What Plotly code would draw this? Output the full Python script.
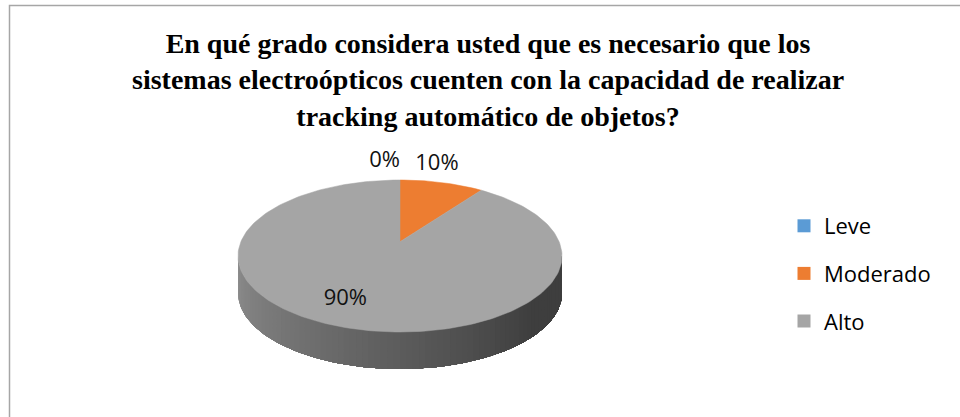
import math
import plotly.graph_objects as go

# ---- data ----
categories = ["Leve", "Moderado", "Alto"]
values = [0, 10, 90]
colors = ["#5B9BD5", "#ED7D31", "#A5A5A5"]
title_lines = [
    "En qué grado considera usted que es necesario que los",
    "sistemas electroópticos cuenten con la capacidad de realizar",
    "tracking automático de objetos?",
]

# ---- geometry (pixel-like axis units) ----
W, H = 960, 417
CX, CY, RX, RY = 400.0, 256.0, 162.0, 76.0
K = -0.188          # perspective tilt
DEPTH = 37.0        # thickness of the 3D side
S = math.sqrt(1 - K * K)


def project(X, V):
    d = 1 + K * V
    return CX + RX * X * S / d, CY + RY * (V + K) / d


def circ(theta_deg, r=1.0):
    t = math.radians(theta_deg)
    return r * math.sin(t), -r * math.cos(t)


def slice_of(theta):
    total = sum(values)
    acc = 0.0
    for i, v in enumerate(values):
        a0 = acc / total * 360
        acc += v
        a1 = acc / total * 360
        if v > 0 and a0 <= theta < a1:
            return i
    return len(values) - 1


def shade(hexcol, f):
    r, g, b = (int(hexcol[i:i + 2], 16) for i in (1, 3, 5))
    return "rgb(%d,%d,%d)" % (r * f, g * f, b * f)


fig = go.Figure()

# side wall (front half), shaded strips; each strip runs to the right end
# and the next one overlaps it, so no seams are left between strips
N = 80
for i in range(N):
    p0 = math.pi * i / N
    p1 = math.pi
    xs, ys = [], []
    steps = max(2, (N - i) * 2)
    for j in range(steps + 1):
        p = p0 + (p1 - p0) * j / steps
        xs.append(CX - RX * math.cos(p))
        ys.append(CY + RY * math.sin(p))
    for j in range(steps, -1, -1):
        p = p0 + (p1 - p0) * j / steps
        xs.append(CX - RX * math.cos(p))
        ys.append(CY + RY * math.sin(p) + DEPTH)
    pm = math.pi * (i + 0.5) / N
    xu, yu = -math.cos(pm), math.sin(pm)
    V = (yu - K) / (1 - K * yu)
    X = xu * (1 + K * V) / S
    th = math.degrees(math.atan2(X, -V)) % 360
    idx = slice_of(th)
    frac = (i + 0.5) / N
    f = 0.86 - 0.48 * min(1.0, frac / 0.8)
    col = shade(colors[idx], f)
    fig.add_trace(go.Scatter(x=xs, y=ys, fill="toself", mode="lines",
                             line=dict(width=0, color=col), fillcolor=col,
                             hoverinfo="skip", showlegend=False))

# top face slices
total = sum(values)
acc = 0.0
label_pts = []
for i, v in enumerate(values):
    a0 = acc / total * 360
    acc += v
    a1 = acc / total * 360
    label_pts.append(((a0 + a1) / 2, v))
    if v <= 0:
        continue
    n = max(4, int((a1 - a0) / 1.5))
    xs, ys = [], []
    px, py = project(0, 0)
    xs.append(px); ys.append(py)
    for j in range(n + 1):
        a = a0 + (a1 - a0) * j / n
        px, py = project(*circ(a))
        xs.append(px); ys.append(py)
    xs.append(xs[0]); ys.append(ys[0])
    fig.add_trace(go.Scatter(x=xs, y=ys, fill="toself", mode="lines",
                             line=dict(width=0.5, color=colors[i]),
                             fillcolor=colors[i], hoverinfo="skip",
                             showlegend=False))

# data labels
for i, (mid, v) in enumerate(label_pts):
    pct = "%d%%" % round(v / total * 100)
    if v / total > 0.5:
        px, py = project(*circ(mid, 0.72))
        pos = "middle center"
        px -= 14
    else:
        px, py = project(*circ(mid, 1.15))
        pos = "top left" if v == 0 else "top center"
        if v != 0:
            px -= 10
    fig.add_trace(go.Scatter(x=[px], y=[py], mode="text", text=[pct],
                             textposition=pos,
                             textfont=dict(family="Open Sans", size=22,
                                           color="#111111"),
                             hoverinfo="skip", showlegend=False))

# legend entries
for i, c in enumerate(categories):
    fig.add_trace(go.Scatter(x=[None], y=[None], mode="markers", name=c,
                             legendgroup=c,
                             marker=dict(symbol="square", size=13,
                                         color=colors[i])))

fig.update_layout(
    width=W, height=H,
    margin=dict(l=0, r=0, t=0, b=0),
    paper_bgcolor="white", plot_bgcolor="white",
    xaxis=dict(range=[0, W], visible=False, fixedrange=True),
    yaxis=dict(range=[H, 0], visible=False, fixedrange=True),
    annotations=[dict(text="<br>".join(title_lines), xref="paper",
                      yref="paper", x=488 / W, xanchor="center",
                      y=1 - 80 / H, yanchor="middle", showarrow=False,
                      align="center",
                      font=dict(family="Liberation Serif", size=28,
                                color="black", weight="bold"))],
    legend=dict(x=784 / W, xanchor="left", y=1 - 205 / H, yanchor="top",
                font=dict(family="Open Sans", size=22, color="black"),
                tracegroupgap=16, bgcolor="rgba(0,0,0,0)"),
    shapes=[dict(type="rect", xref="paper", yref="paper",
                 x0=9.5 / W, x1=1.05, y0=-0.05, y1=1 - 5.5 / H,
                 line=dict(color="#A6A6A6", width=1.5), layer="below")],
)

fig.write_html("out.html")
